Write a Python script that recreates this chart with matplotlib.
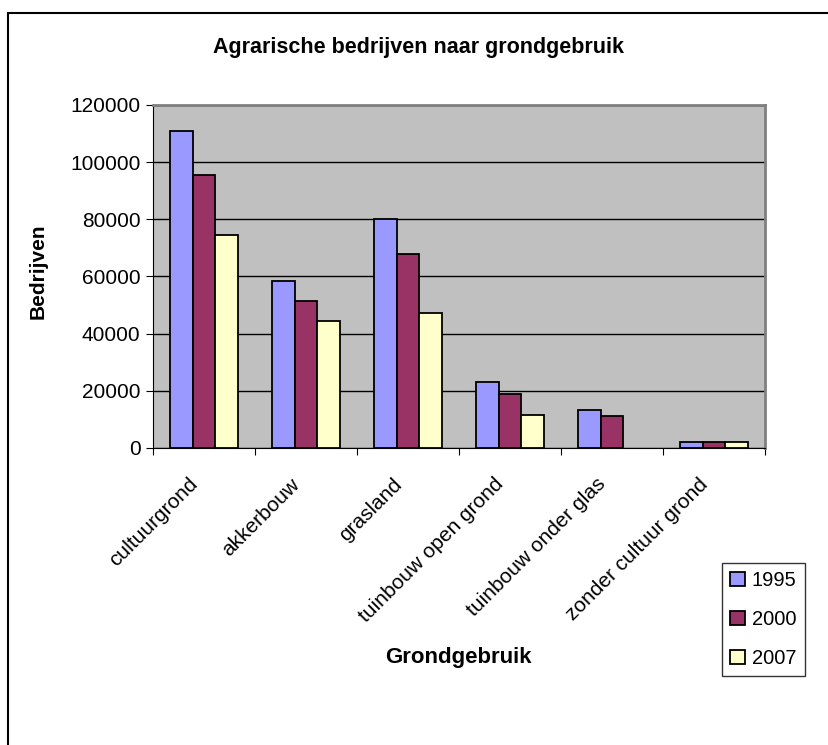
import numpy as np
import matplotlib.pyplot as plt
from matplotlib.patches import Rectangle
from matplotlib.transforms import ScaledTranslation

plt.rcParams['font.family'] = ['Liberation Sans', 'DejaVu Sans']

# data (no 2007 bar for tuinbouw onder glas)
categories = ['cultuurgrond', 'akkerbouw', 'grasland', 'tuinbouw open grond',
              'tuinbouw onder glas', 'zonder cultuur grond']
years = ['1995', '2000', '2007']
values_1995 = [110900, 58500, 80200, 23000, 13300, 1950]
values_2000 = [95400, 51500, 67700, 18900, 11200, 1950]
values_2007 = [74600, 44600, 47400, 11700, np.nan, 1950]
colors = ['#9999ff', '#993366', '#ffffcc']

fig = plt.figure(figsize=(8.29, 7.45), dpi=100)
# outer chart border (runs off the right and bottom of the picture)
fig.patches.append(Rectangle((8 / 829, -0.05), 1.1, 1 - 13 / 745 + 0.05,
                             transform=fig.transFigure, fill=False,
                             edgecolor='black', linewidth=1.5))

ax = fig.add_axes([153 / 829, 1 - 448 / 745, (765 - 153) / 829, (448 - 105) / 745])
ax.set_facecolor('#c0c0c0')

x = np.arange(len(categories))
w = 0.224
for i, (vals, c) in enumerate(zip([values_1995, values_2000, values_2007], colors)):
    ax.bar(x + (i - 1) * w, vals, width=w, color=c, edgecolor='black',
           linewidth=1.3, label=years[i], zorder=3)

ax.set_xlim(-0.5, len(categories) - 0.5)
ax.set_ylim(0, 120000)
ax.set_yticks(range(0, 120001, 20000))
ax.yaxis.grid(True, color='black', linewidth=1, zorder=1)
ax.tick_params(axis='y', labelsize=15, length=5, direction='out', pad=4)

# ticks between categories, labels at centres
ax.set_xticks(np.arange(-0.5, len(categories), 1))
ax.set_xticklabels([])
ax.set_xticks(x, minor=True)
ax.set_xticklabels(categories, minor=True, rotation=45, ha='right', va='center',
                   rotation_mode='anchor', fontsize=15)
ax.tick_params(axis='x', which='minor', length=0, pad=24)
ax.tick_params(axis='x', which='major', length=5)
shift = ScaledTranslation(-9 / 100, 0, fig.dpi_scale_trans)
for lbl in ax.get_xticklabels(minor=True):
    lbl.set_transform(lbl.get_transform() + shift)

for s in ['top', 'right']:
    ax.spines[s].set_color('#808080')
    ax.spines[s].set_linewidth(2)
for s in ['left', 'bottom']:
    ax.spines[s].set_color('black')

fig.text(0.505, 1 - 47 / 745, 'Agrarische bedrijven naar grondgebruik',
         ha='center', va='center', fontsize=15.5, fontweight='bold')
fig.text(0.553, 1 - 658 / 745, 'Grondgebruik', ha='center', va='center',
         fontsize=16, fontweight='bold')
fig.text(38 / 829, 1 - 271 / 745, 'Bedrijven', ha='center', va='center',
         rotation=90, fontsize=15, fontweight='bold')

fig.legend(loc='upper left', bbox_to_anchor=(722 / 829, 1 - 563 / 745),
           fontsize=14.5, frameon=True, fancybox=False, edgecolor='black',
           handlelength=0.7, handleheight=0.7, handletextpad=0.35,
           labelspacing=0.98, borderpad=0.42, borderaxespad=0)

fig.savefig('out.png', dpi=100)
